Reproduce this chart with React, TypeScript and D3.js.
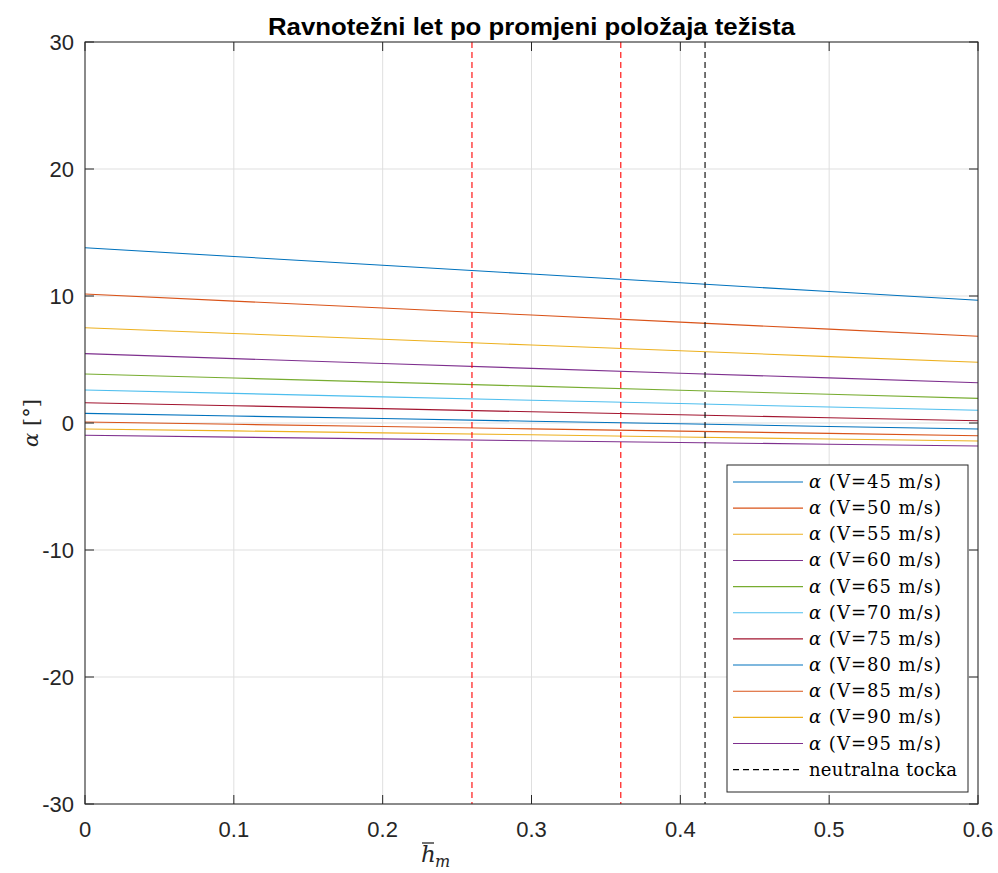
import React from "react";
import * as d3 from "d3";

const hm = [0, 0.1, 0.2, 0.3, 0.4, 0.5, 0.6];
const speeds = [45, 50, 55, 60, 65, 70, 75, 80, 85, 90, 95];
const a45 = [13.8, 13.11, 12.42, 11.73, 11.04, 10.35, 9.66];
const a50 = [10.16, 9.6, 9.05, 8.5, 7.94, 7.39, 6.83];
const a55 = [7.5, 7.05, 6.6, 6.14, 5.69, 5.23, 4.78];
const a60 = [5.46, 5.07, 4.69, 4.3, 3.92, 3.55, 3.17];
const a65 = [3.86, 3.54, 3.22, 2.9, 2.58, 2.26, 1.94];
const a70 = [2.6, 2.33, 2.06, 1.79, 1.53, 1.26, 1.0];
const a75 = [1.6, 1.36, 1.13, 0.88, 0.65, 0.41, 0.18];
const a80 = [0.76, 0.55, 0.35, 0.14, -0.06, -0.27, -0.47];
const a85 = [0.08, -0.1, -0.28, -0.46, -0.64, -0.82, -1.0];
const a90 = [-0.47, -0.62, -0.78, -0.93, -1.1, -1.26, -1.42];
const a95 = [-0.97, -1.11, -1.25, -1.4, -1.53, -1.67, -1.81];
const series = [a45, a50, a55, a60, a65, a70, a75, a80, a85, a90, a95];
const colors = ["#0072BD", "#D95319", "#EDB120", "#7E2F8E", "#77AC30", "#4DBEEE", "#A2142F", "#0072BD", "#D95319", "#EDB120", "#7E2F8E"];
const redLines = [0.26, 0.36];
const neutralPoint = 0.4166;
const xTicks = [0, 0.1, 0.2, 0.3, 0.4, 0.5, 0.6];
const yTicks = [-30, -20, -10, 0, 10, 20, 30];

export default function App() {
  const L = 85, R = 978, T = 42, B = 804;
  const x = d3.scaleLinear().domain([0, 0.6]).range([L, R]);
  const y = d3.scaleLinear().domain([-30, 30]).range([B, T]);
  const line = d3.line<number>().x((_, i) => x(hm[i])).y((d) => y(d));
  const axisColor = "#262626";
  const tickFont = "Liberation Sans, Arial, sans-serif";
  const serif = "DejaVu Serif, serif";
  const lgX = 727, lgY = 465, lgW = 241, lgH = 327;
  const rowH = 26.15;
  return (
    <svg width={998} height={873} style={{ position: "fixed", left: 0, top: 0, background: "#fff" }}>
      <rect x={0} y={0} width={998} height={873} fill="#fff" />
      {xTicks.map((t) => (
        <line key={"gx" + t} x1={x(t)} x2={x(t)} y1={T} y2={B} stroke="#dfdfdf" strokeWidth={1} />
      ))}
      {yTicks.map((t) => (
        <line key={"gy" + t} x1={L} x2={R} y1={y(t)} y2={y(t)} stroke="#dfdfdf" strokeWidth={1} />
      ))}
      {series.map((s, i) => (
        <path key={"s" + i} d={line(s) || ""} fill="none" stroke={colors[i]} strokeWidth={1.1} />
      ))}
      {redLines.map((v) => (
        <line key={"r" + v} x1={x(v)} x2={x(v)} y1={T} y2={B} stroke="#FF0000" strokeWidth={1.1} strokeDasharray="6,4" />
      ))}
      <line x1={x(neutralPoint)} x2={x(neutralPoint)} y1={T} y2={B} stroke="#000" strokeWidth={1.1} strokeDasharray="6,4" />
      <rect x={L} y={T} width={R - L} height={B - T} fill="none" stroke={axisColor} strokeWidth={1} />
      {xTicks.map((t) => (
        <g key={"tx" + t}>
          <line x1={x(t)} x2={x(t)} y1={B} y2={B - 9} stroke={axisColor} />
          <line x1={x(t)} x2={x(t)} y1={T} y2={T + 9} stroke={axisColor} />
          <text x={x(t)} y={837} textAnchor="middle" fontSize={22} fontFamily={tickFont} fill={axisColor}>
            {t === 0 ? "0" : t.toFixed(1)}
          </text>
        </g>
      ))}
      {yTicks.map((t) => (
        <g key={"ty" + t}>
          <line x1={L} x2={L + 9} y1={y(t)} y2={y(t)} stroke={axisColor} />
          <line x1={R} x2={R - 9} y1={y(t)} y2={y(t)} stroke={axisColor} />
          <text x={74} y={y(t) + 8} textAnchor="end" fontSize={22} fontFamily={tickFont} fill={axisColor}>
            {t}
          </text>
        </g>
      ))}
      <text x={531.5} y={35} textAnchor="middle" fontSize={24} fontWeight="bold" fontFamily={tickFont} fill="#000" textLength={527} lengthAdjust="spacingAndGlyphs">
        Ravnotežni let po promjeni položaja težista
      </text>
      <g fontFamily={serif} fill={axisColor}>
        <text x={421} y={862} fontSize={23} fontStyle="italic">h</text>
        <line x1={422} x2={434} y1={843} y2={843} stroke={axisColor} strokeWidth={1.3} />
        <text x={435} y={867} fontSize={16} fontStyle="italic">m</text>
      </g>
      <text transform="translate(38,423) rotate(-90)" textAnchor="middle" fontSize={21} fontFamily={serif} fill={axisColor}>
        <tspan fontStyle="italic">α</tspan> [°]
      </text>
      <rect x={lgX} y={lgY} width={lgW} height={lgH} fill="#fff" stroke={axisColor} strokeWidth={1} />
      {speeds.map((v, i) => (
        <g key={"lg" + v}>
          <line x1={733} x2={803} y1={lgY + 17 + i * rowH} y2={lgY + 17 + i * rowH} stroke={colors[i]} strokeWidth={1.1} />
          <text x={809} y={lgY + 17 + i * rowH + 6} fontSize={18} fontFamily={serif} fill="#000" textLength={132} lengthAdjust="spacing">
            <tspan fontStyle="italic">α</tspan> (V={v} m/s)
          </text>
        </g>
      ))}
      <line x1={733} x2={803} y1={lgY + 17 + 11 * rowH} y2={lgY + 17 + 11 * rowH} stroke="#000" strokeWidth={1.1} strokeDasharray="6,4" />
      <text x={809} y={lgY + 17 + 11 * rowH + 6} fontSize={18} fontFamily={serif} fill="#000" textLength={148} lengthAdjust="spacing">
        neutralna tocka
      </text>
    </svg>
  );
}
